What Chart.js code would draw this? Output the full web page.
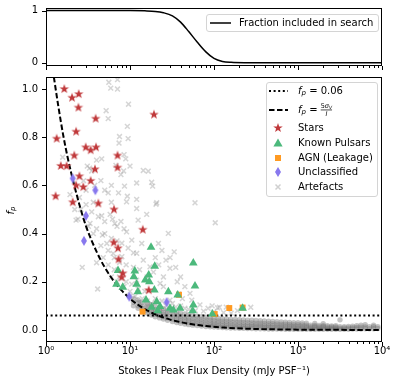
<!DOCTYPE html>
<html>
<head>
<meta charset="utf-8">
<script src="https://cdn.jsdelivr.net/npm/chart.js@4/dist/chart.umd.min.js"></script>
<style>
  html, body { margin: 0; padding: 0; background: #fff; }
  #wrap { position: relative; width: 399px; height: 384px; }
  #topChart { position: absolute; left: 0; top: 0; }
  #mainChart { position: absolute; left: 0; top: 70px; }
</style>
</head>
<body>
<div id="wrap">
  <canvas id="topChart" width="399" height="72"></canvas>
  <canvas id="mainChart" width="399" height="314"></canvas>
</div>
<script>
// ---- data ----
const xTicks = [1, 10, 100, 1000, 10000];
const xTickLabels = ['10⁰', '10¹', '10²', '10³', '10⁴'];
const yTicks = [0, 0.2, 0.4, 0.6, 0.8, 1.0];
const topYTicks = [0, 1];

// top panel: fraction of sources included in the search
const fracFlux = [1, 10, 15, 20, 25, 32, 40, 50, 63, 80, 100, 126, 160, 250, 1000, 10000];
const fracIncluded = [1, 1, 0.995, 0.985, 0.96, 0.9, 0.78, 0.6, 0.4, 0.21, 0.085, 0.028, 0.01, 0.003, 0, 0];

// f_p = 5 sigma_V / I curve and the f_p = 0.06 cut
const limitFlux = [1.24, 1.4, 1.6, 1.8, 2, 2.5, 3, 4, 5, 6.5, 8, 10, 13, 16, 20, 30, 50, 80, 130, 250, 500, 1000, 3000, 10000];
const limitFp = [1.05, 0.93, 0.81, 0.72, 0.65, 0.52, 0.43, 0.325, 0.26, 0.2, 0.163, 0.13, 0.1, 0.081, 0.065, 0.043, 0.026, 0.016, 0.01, 0.005, 0.0026, 0.0013, 0.0004, 0.0001];
const cutFp = 0.06;

const starFlux = [1.65, 2.04, 2.45, 2.43, 3.9, 19.3, 2.28, 1.34, 2.97, 3.4, 3.94, 2.17, 7.1, 1.5, 1.76, 7.1, 3.83, 2.5, 3.4, 2.28, 2.78, 1.3, 2.08, 4.2, 6.45, 14.2, 6.4, 7.2, 7.3, 8.2, 7.95, 16.7];
const starFp = [1.0, 0.964, 0.979, 0.923, 0.877, 0.894, 0.823, 0.794, 0.758, 0.746, 0.758, 0.724, 0.724, 0.681, 0.68, 0.674, 0.667, 0.638, 0.619, 0.6, 0.593, 0.555, 0.53, 0.525, 0.5, 0.416, 0.363, 0.339, 0.293, 0.235, 0.218, 0.165];

const pulsarFlux = [17.8, 56.7, 19.7, 11.4, 7.2, 16.7, 11.1, 15.2, 17, 6.9, 12, 8.2, 59.4, 19.5, 12.4, 28.6, 37, 15.5, 20.8, 22.8, 29.9, 39.4, 56.7, 55.7, 21.4, 18.1, 95.5, 219, 32.8];
const pulsarFp = [0.343, 0.278, 0.264, 0.245, 0.247, 0.228, 0.221, 0.207, 0.2, 0.19, 0.19, 0.177, 0.182, 0.166, 0.159, 0.159, 0.145, 0.124, 0.117, 0.097, 0.09, 0.09, 0.104, 0.08, 0.08, 0.094, 0.066, 0.09, 0.083];

const agnFlux = [14.1, 38.3, 102, 152, 219];
const agnFp = [0.076, 0.146, 0.066, 0.091, 0.093];

const unclassFlux = [2.08, 3.87, 2.99, 2.83, 9.8, 27.3];
const unclassFp = [0.629, 0.58, 0.474, 0.37, 0.138, 0.115];

// scattered artefacts [flux, f_p]
const artefactPoints = [
  [5.6, 1.028], [7.1, 1.039], [5.9, 1.004], [7.1, 1.0], [9.6, 0.937], [5.2, 0.91], [5.5, 0.877],
  [9.3, 0.845], [7.5, 0.803], [9.5, 0.794], [7.4, 0.776], [8.5, 0.728], [8.9, 0.71], [4.6, 0.71],
  [4.0, 0.705], [1.58, 0.717], [3.1, 0.68], [3.3, 0.672], [6.8, 0.683], [10, 0.68], [14.4, 0.662],
  [16.5, 0.659], [7.8, 0.645], [8.4, 0.66], [12, 0.61], [18.1, 0.613], [18.6, 0.597], [8.6, 0.597],
  [5.5, 0.569], [7.3, 0.569], [9.3, 0.555], [12, 0.542], [20.8, 0.528], [59.4, 0.528], [1.93, 0.562],
  [3.66, 0.53], [6.0, 0.53], [20.4, 0.522], [103.5, 0.445], [4.6, 0.474], [4.7, 0.394], [6.6, 0.442],
  [9.1, 0.532], [12, 0.504], [15.8, 0.48], [12.5, 0.456], [9.1, 0.407], [10.5, 0.373], [13.8, 0.359],
  [21.8, 0.359], [28.6, 0.401], [33.6, 0.324], [26.8, 0.29], [29.9, 0.256], [36.5, 0.2], [51.8, 0.152],
  [54.4, 0.124], [68, 0.104], [116, 0.094], [274, 0.094], [2.7, 0.26], [4.12, 0.17], [2.28, 0.456],
  [3.34, 0.442], [3.66, 0.4], [5.3, 0.359], [6.3, 0.318], [4.0, 0.279], [8, 0.304], [12, 0.207],
  [22.8, 0.193], [17.3, 0.262], [14.4, 0.29], [12, 0.318], [29.9, 0.124], [25, 0.18], [10, 0.138],
  [13.1, 0.11], [2.4, 0.46], [2.6, 0.5], [3.0, 0.52], [3.5, 0.49], [4.2, 0.47], [5.0, 0.45],
  [5.8, 0.48], [6.2, 0.46], [7.0, 0.43], [7.8, 0.45], [8.5, 0.42], [3.2, 0.43], [4.0, 0.42],
  [5.0, 0.4], [6.0, 0.38], [7.0, 0.37], [8.0, 0.36], [9.5, 0.34], [11, 0.32], [4.5, 0.35],
  [5.5, 0.33], [6.5, 0.3], [7.5, 0.28], [9, 0.27], [11, 0.26], [13, 0.25], [4.8, 0.3], [5.5, 0.27],
  [6.5, 0.25], [7.5, 0.22], [9, 0.2], [10.5, 0.19], [12.5, 0.17], [15, 0.16], [6, 0.22], [7, 0.2],
  [8.5, 0.18], [10, 0.16], [11.5, 0.14], [14, 0.13], [16, 0.12], [18, 0.11], [20, 0.13], [24, 0.12],
  [27, 0.1], [32, 0.11], [40, 0.1], [45, 0.09], [35, 0.095], [50, 0.085], [60, 0.08], [75, 0.078],
  [85, 0.09], [100, 0.075], [130, 0.072], [160, 0.07], [190, 0.08], [140, 0.095], [95, 0.1],
  [110, 0.092], [16, 0.22], [19, 0.24], [22, 0.27], [25, 0.22], [20, 0.3], [24, 0.33], [30, 0.3],
  [35, 0.26], [40, 0.22], [45, 0.18], [38, 0.15], [42, 0.13], [2.2, 0.5], [2.5, 0.55], [3.0, 0.58],
  [3.8, 0.6], [4.5, 0.62], [5.0, 0.58], [6.0, 0.6], [2.8, 0.62], [3.5, 0.66]
];

// dense band of artefacts near the bottom: [flux, [f_p values]]
const bulkColumns = [
  [11, [0.10, 0.115, 0.13]], [12.5, [0.09, 0.10, 0.115, 0.125]], [14, [0.08, 0.09, 0.10, 0.115]],
  [16, [0.07, 0.08, 0.09, 0.10, 0.11]], [18, [0.062, 0.072, 0.082, 0.092, 0.105]],
  [20, [0.055, 0.065, 0.075, 0.085, 0.098]], [22.5, [0.05, 0.06, 0.07, 0.08, 0.092]],
  [25, [0.045, 0.055, 0.065, 0.075, 0.088]], [28, [0.04, 0.05, 0.06, 0.07, 0.082]],
  [32, [0.035, 0.045, 0.055, 0.065, 0.078]], [36, [0.031, 0.041, 0.051, 0.061, 0.073]],
  [40, [0.028, 0.037, 0.047, 0.057, 0.07]], [45, [0.025, 0.034, 0.044, 0.054, 0.066]],
  [50, [0.022, 0.031, 0.041, 0.051, 0.063]], [56, [0.02, 0.029, 0.038, 0.048, 0.06]],
  [63, [0.018, 0.027, 0.036, 0.046, 0.057]], [71, [0.016, 0.025, 0.034, 0.044, 0.055]],
  [80, [0.014, 0.023, 0.032, 0.042, 0.053]], [90, [0.013, 0.021, 0.03, 0.04, 0.051]],
  [100, [0.012, 0.02, 0.029, 0.038, 0.05]], [112, [0.011, 0.019, 0.028, 0.037, 0.048]],
  [126, [0.01, 0.018, 0.027, 0.036, 0.047]], [141, [0.009, 0.017, 0.026, 0.035, 0.046]],
  [158, [0.008, 0.016, 0.025, 0.034, 0.045]], [178, [0.008, 0.015, 0.024, 0.033, 0.044]],
  [200, [0.007, 0.014, 0.023, 0.032, 0.043]], [224, [0.007, 0.014, 0.022, 0.031, 0.042]],
  [251, [0.006, 0.013, 0.021, 0.03, 0.041]], [282, [0.006, 0.013, 0.021, 0.029, 0.04]],
  [316, [0.005, 0.012, 0.02, 0.028, 0.039]], [355, [0.005, 0.012, 0.02, 0.028, 0.038]],
  [398, [0.005, 0.011, 0.019, 0.027, 0.037]], [447, [0.004, 0.011, 0.018, 0.026, 0.036]],
  [501, [0.004, 0.01, 0.018, 0.026, 0.035]], [562, [0.004, 0.01, 0.017, 0.025, 0.034]],
  [631, [0.004, 0.01, 0.017, 0.024, 0.033]], [708, [0.003, 0.009, 0.016, 0.024, 0.032]],
  [794, [0.003, 0.009, 0.016, 0.023, 0.031]], [891, [0.003, 0.009, 0.015, 0.022, 0.03]],
  [1000, [0.003, 0.008, 0.015, 0.022, 0.03]], [1122, [0.003, 0.008, 0.014, 0.021, 0.029]],
  [1259, [0.003, 0.008, 0.014, 0.02, 0.028]], [1413, [0.003, 0.008, 0.014, 0.02]],
  [1585, [0.003, 0.008, 0.013, 0.019, 0.027]], [1778, [0.003, 0.008, 0.013, 0.019]],
  [1995, [0.003, 0.007, 0.013, 0.018, 0.026]], [2239, [0.003, 0.007, 0.012, 0.018]],
  [2512, [0.003, 0.007, 0.012, 0.017]], [2818, [0.003, 0.007, 0.012, 0.018]],
  [3162, [0.003, 0.007, 0.013, 0.042]], [3548, [0.003, 0.008, 0.014]], [3981, [0.003, 0.008, 0.015]],
  [4467, [0.004, 0.009, 0.016]], [5012, [0.004, 0.01, 0.018]], [5623, [0.004, 0.011, 0.02]],
  [6310, [0.005, 0.012, 0.022]], [7079, [0.005, 0.013]], [7943, [0.005, 0.014, 0.02]], [8913, [0.006, 0.014]]
];

// ---- helpers ----
const FONT = '"DejaVu Sans", sans-serif';
const STAR_COL = '#c0393b';
const PSR_COL = '#4cb97c';
const AGN_COL = '#ff9a22';
const UNC_COL = '#8878ee';
const ART_COL = 'rgba(150,150,150,0.4)';

const pairs = (xs, ys) => xs.map((x, i) => ({ x: x, y: ys[i] }));

// keep chart area where the figure has it (no extra room for end labels)
const noEdgePad = s => {
  s.paddingTop = 0; s.paddingBottom = 0; s.paddingLeft = 0; s.paddingRight = 0;
};

function starImage(r, color) {
  const c = document.createElement('canvas');
  c.width = c.height = Math.ceil(r * 2 + 2);
  const g = c.getContext('2d');
  const cx = c.width / 2, cy = c.height / 2;
  g.beginPath();
  for (let i = 0; i < 10; i++) {
    const rad = i % 2 === 0 ? r : r * 0.4;
    const a = -Math.PI / 2 + i * Math.PI / 5;
    g.lineTo(cx + rad * Math.cos(a), cy + rad * Math.sin(a));
  }
  g.closePath();
  g.fillStyle = color;
  g.fill();
  return c;
}

function diamondImage(w, h, color) {
  const c = document.createElement('canvas');
  c.width = w + 2;
  c.height = h + 2;
  const g = c.getContext('2d');
  g.beginPath();
  g.moveTo(c.width / 2, 1);
  g.lineTo(c.width - 1, c.height / 2);
  g.lineTo(c.width / 2, c.height - 1);
  g.lineTo(1, c.height / 2);
  g.closePath();
  g.fillStyle = color;
  g.fill();
  return c;
}

const starImg = starImage(5, STAR_COL);
const diamondImg = diamondImage(6, 10, UNC_COL);

function drawFrame(chart, yVals) {
  const { ctx, chartArea: a, scales: { x, y } } = chart;
  ctx.save();
  ctx.strokeStyle = '#000';
  ctx.lineWidth = 1;
  ctx.beginPath();
  for (let p = 0; p <= 4; p++) {
    for (let m = 1; m < 10; m++) {
      const v = m * Math.pow(10, p);
      if (v > 10000) break;
      const px = Math.round(x.getPixelForValue(v)) + 0.5;
      ctx.moveTo(px, a.bottom);
      ctx.lineTo(px, a.bottom + (m === 1 ? 4 : 2));
    }
  }
  yVals.forEach(v => {
    const py = Math.round(y.getPixelForValue(v)) + 0.5;
    ctx.moveTo(a.left, py);
    ctx.lineTo(a.left - 4, py);
  });
  ctx.stroke();
  ctx.strokeRect(Math.round(a.left) + 0.5, Math.round(a.top) + 0.5,
    Math.round(a.right - a.left) - 1, Math.round(a.bottom - a.top) - 1);
  ctx.restore();
}

function legendBox(ctx, x, y, w, h) {
  const r = 2.5;
  ctx.beginPath();
  ctx.moveTo(x + r, y);
  ctx.arcTo(x + w, y, x + w, y + h, r);
  ctx.arcTo(x + w, y + h, x, y + h, r);
  ctx.arcTo(x, y + h, x, y, r);
  ctx.arcTo(x, y, x + w, y, r);
  ctx.closePath();
  ctx.fillStyle = 'rgba(255,255,255,0.85)';
  ctx.fill();
  ctx.strokeStyle = '#d4d4d4';
  ctx.lineWidth = 1;
  ctx.stroke();
}

// italic f with subscript p, returns end x
function drawFp(ctx, x, y) {
  ctx.textAlign = 'left';
  ctx.textBaseline = 'middle';
  ctx.font = 'italic 10px ' + FONT;
  ctx.fillText('f', x, y);
  let w = ctx.measureText('f').width;
  ctx.font = 'italic 7px ' + FONT;
  ctx.fillText('p', x + w, y + 2.5);
  w += ctx.measureText('p').width;
  return x + w;
}

const topDecor = {
  id: 'topDecor',
  afterDraw(chart) {
    drawFrame(chart, topYTicks);
    const { ctx, chartArea: a } = chart;
    ctx.save();
    const bx = a.right - 176, by = a.top + 6;
    legendBox(ctx, bx + 0.5, by + 0.5, 172, 17);
    ctx.strokeStyle = '#000';
    ctx.lineWidth = 1.5;
    ctx.beginPath();
    ctx.moveTo(bx + 4, by + 9);
    ctx.lineTo(bx + 25, by + 9);
    ctx.stroke();
    ctx.fillStyle = '#000';
    ctx.font = '10px ' + FONT;
    ctx.textBaseline = 'middle';
    ctx.fillText('Fraction included in search', bx + 33, by + 9);
    ctx.restore();
  }
};

const mainDecor = {
  id: 'mainDecor',
  afterDraw(chart) {
    drawFrame(chart, yTicks);
    const { ctx, chartArea: a } = chart;
    ctx.save();
    // y axis title f_p
    ctx.fillStyle = '#000';
    ctx.translate(11, (a.top + a.bottom) / 2);
    ctx.rotate(-Math.PI / 2);
    drawFp(ctx, -5, 0);
    ctx.restore();

    // legend
    ctx.save();
    const w = 111, h = 114;
    const bx = a.right - 5 - w, by = a.top + 5;
    legendBox(ctx, bx + 0.5, by + 0.5, w, h);
    const sx = bx + 12, tx = bx + 32;
    const rows = [9, 28, 46, 61, 76, 90, 105].map(v => by + v);

    ctx.strokeStyle = '#000';
    ctx.lineWidth = 2;
    ctx.setLineDash([2, 2.6]);
    ctx.beginPath(); ctx.moveTo(sx - 9, rows[0]); ctx.lineTo(sx + 10, rows[0]); ctx.stroke();
    ctx.setLineDash([5.5, 2.5]);
    ctx.beginPath(); ctx.moveTo(sx - 9, rows[1]); ctx.lineTo(sx + 10, rows[1]); ctx.stroke();
    ctx.setLineDash([]);

    ctx.fillStyle = '#000';
    let ex = drawFp(ctx, tx, rows[0]);
    ctx.font = '10px ' + FONT;
    ctx.fillText(' = 0.06', ex, rows[0]);

    ex = drawFp(ctx, tx, rows[1]);
    ctx.font = '10px ' + FONT;
    ctx.fillText(' = ', ex, rows[1]);
    ex += ctx.measureText(' = ').width;
    ctx.font = '6.5px ' + FONT;
    ctx.fillText('5', ex, rows[1] - 4);
    let nx = ex + ctx.measureText('5').width;
    ctx.font = 'italic 6.5px ' + FONT;
    ctx.fillText('σ', nx, rows[1] - 4);
    nx += ctx.measureText('σ').width;
    ctx.font = 'italic 4.5px ' + FONT;
    ctx.fillText('V', nx, rows[1] - 2.5);
    nx += ctx.measureText('V').width;
    ctx.fillRect(ex, rows[1] - 0.4, nx - ex, 0.7);
    ctx.font = 'italic 6.5px ' + FONT;
    ctx.textAlign = 'center';
    ctx.fillText('I', (ex + nx) / 2, rows[1] + 4);
    ctx.textAlign = 'left';

    // markers
    ctx.drawImage(starImg, sx - starImg.width / 2, rows[2] - starImg.height / 2);
    ctx.fillStyle = PSR_COL;
    ctx.beginPath();
    ctx.moveTo(sx, rows[3] - 4.5);
    ctx.lineTo(sx + 4.6, rows[3] + 3.5);
    ctx.lineTo(sx - 4.6, rows[3] + 3.5);
    ctx.closePath();
    ctx.fill();
    ctx.fillStyle = AGN_COL;
    ctx.fillRect(sx - 3, rows[4] - 3, 6, 6);
    ctx.drawImage(diamondImg, sx - diamondImg.width / 2, rows[5] - diamondImg.height / 2);
    ctx.strokeStyle = 'rgba(150,150,150,0.45)';
    ctx.lineWidth = 1.5;
    ctx.beginPath();
    ctx.moveTo(sx - 2.5, rows[6] - 2.5); ctx.lineTo(sx + 2.5, rows[6] + 2.5);
    ctx.moveTo(sx + 2.5, rows[6] - 2.5); ctx.lineTo(sx - 2.5, rows[6] + 2.5);
    ctx.stroke();

    ctx.fillStyle = '#000';
    ctx.font = '10px ' + FONT;
    ctx.textBaseline = 'middle';
    ['Stars', 'Known Pulsars', 'AGN (Leakage)', 'Unclassified', 'Artefacts'].forEach((t, i) => {
      ctx.fillText(t, tx, rows[i + 2]);
    });
    ctx.restore();
  }
};

// ---- top panel ----
new Chart(document.getElementById('topChart'), {
  type: 'scatter',
  data: {
    datasets: [{
      data: pairs(fracFlux, fracIncluded),
      showLine: true,
      borderColor: '#000',
      borderWidth: 1.5,
      pointRadius: 0,
      cubicInterpolationMode: 'monotone',
      fill: false
    }]
  },
  options: {
    responsive: false,
    animation: false,
    devicePixelRatio: 1,
    layout: { padding: { top: 8, right: 17, left: 0, bottom: 0 } },
    plugins: { legend: { display: false }, tooltip: { enabled: false } },
    scales: {
      x: {
        type: 'logarithmic', min: 1, max: 10000,
        grid: { display: false, drawTicks: false },
        border: { display: false },
        ticks: { display: false },
        afterFit: s => { s.height = 6; noEdgePad(s); }
      },
      y: {
        min: -0.06, max: 1.05,
        afterBuildTicks: s => { s.ticks = topYTicks.map(v => ({ value: v })); },
        grid: { display: false, drawTicks: false },
        border: { display: false },
        ticks: { padding: 8, color: '#000', font: { family: FONT, size: 10 }, callback: v => String(v) },
        afterFit: s => { s.width = 46; noEdgePad(s); }
      }
    }
  },
  plugins: [topDecor]
});

// ---- main panel ----
const bulkPoints = [];
bulkColumns.forEach(([f, vals]) => vals.forEach(v => bulkPoints.push({ x: f, y: v })));

new Chart(document.getElementById('mainChart'), {
  type: 'scatter',
  data: {
    datasets: [
      {
        label: 'Artefacts',
        data: artefactPoints.map(p => ({ x: p[0], y: p[1] })),
        pointStyle: 'crossRot', pointRadius: 3.4, borderWidth: 1.5,
        borderColor: ART_COL, backgroundColor: ART_COL, order: 10
      },
      {
        label: 'bulk',
        data: bulkPoints,
        pointStyle: 'circle', pointRadius: 2.7, borderWidth: 0,
        backgroundColor: 'rgba(115,115,115,0.42)', order: 9
      },
      {
        label: 'limit',
        data: pairs(limitFlux, limitFp),
        showLine: true, pointRadius: 0, borderColor: '#000', borderWidth: 2,
        borderDash: [5.5, 2.5], cubicInterpolationMode: 'monotone', order: 8
      },
      {
        label: 'cut',
        data: [{ x: 1, y: cutFp }, { x: 10000, y: cutFp }],
        showLine: true, pointRadius: 0, borderColor: '#000', borderWidth: 2,
        borderDash: [2, 2.6], order: 7
      },
      {
        label: 'Unclassified',
        data: pairs(unclassFlux, unclassFp),
        pointStyle: diamondImg, order: 6
      },
      {
        label: 'AGN (Leakage)',
        data: pairs(agnFlux, agnFp),
        pointStyle: 'rect', pointRadius: 4.2, borderWidth: 0,
        backgroundColor: AGN_COL, order: 5
      },
      {
        label: 'Known Pulsars',
        data: pairs(pulsarFlux, pulsarFp),
        pointStyle: 'triangle', pointRadius: 5, borderWidth: 0,
        backgroundColor: PSR_COL, order: 4
      },
      {
        label: 'Stars',
        data: pairs(starFlux, starFp),
        pointStyle: starImg, order: 3
      }
    ]
  },
  options: {
    responsive: false,
    animation: false,
    devicePixelRatio: 1,
    layout: { padding: { top: 7, right: 17, left: 0, bottom: 0 } },
    plugins: { legend: { display: false }, tooltip: { enabled: false } },
    scales: {
      x: {
        type: 'logarithmic', min: 1, max: 10000,
        afterBuildTicks: s => { s.ticks = xTicks.map(v => ({ value: v })); },
        grid: { display: false, drawTicks: false },
        border: { display: false },
        ticks: {
          autoSkip: false, maxRotation: 0, padding: 3, color: '#000',
          font: { family: FONT, size: 10 },
          callback: v => xTickLabels[xTicks.indexOf(v)] || ''
        },
        title: {
          display: true, text: 'Stokes I Peak Flux Density (mJy PSF⁻¹)',
          color: '#000', font: { family: FONT, size: 10 },
          padding: { top: 0, bottom: 7 }
        },
        afterFit: s => { s.height = 42; noEdgePad(s); }
      },
      y: {
        min: -0.05, max: 1.05,
        afterBuildTicks: s => { s.ticks = yTicks.map(v => ({ value: v })); },
        grid: { display: false, drawTicks: false },
        border: { display: false },
        ticks: { padding: 8, color: '#000', font: { family: FONT, size: 10 }, callback: v => v.toFixed(1) },
        afterFit: s => { s.width = 46; noEdgePad(s); }
      }
    }
  },
  plugins: [mainDecor]
});
</script>
</body>
</html>
